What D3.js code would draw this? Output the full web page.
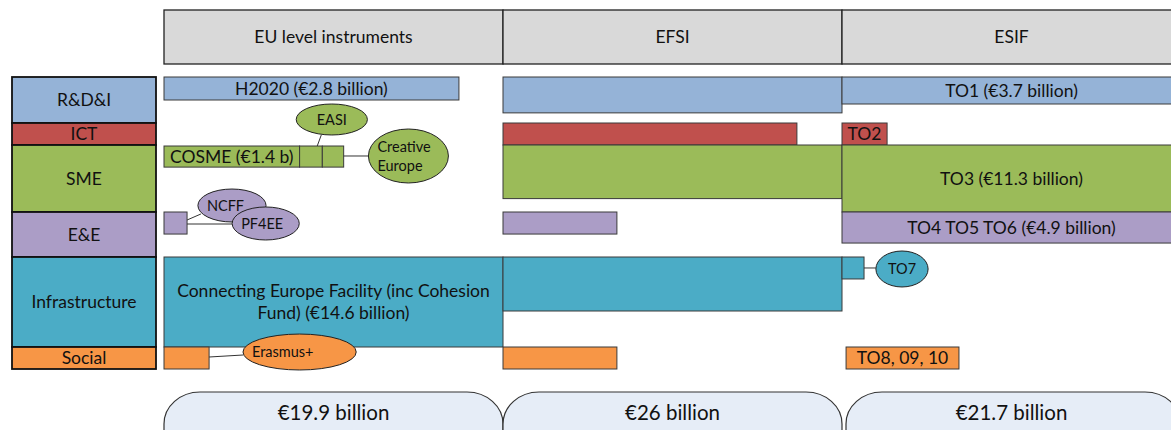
<!DOCTYPE html>
<html>
<head>
<meta charset="utf-8">
<script src="https://cdn.jsdelivr.net/npm/d3@7/dist/d3.min.js"></script>
<style>
  body { margin: 0; background: #fff; }
  text { font-family: Lato, "Noto Sans", sans-serif; fill: #111; }
</style>
</head>
<body>
<svg id="chart" width="1171" height="430"></svg>
<script>
// column headings and the total under each column
var columns = ["EU level instruments", "EFSI", "ESIF"];
var colTotals = ["€19.9 billion", "€26 billion", "€21.7 billion"];

// policy themes, one row each
var themes = ["R&D&I", "ICT", "SME", "E&E", "Infrastructure", "Social"];

// funding blocks: x span in column units (0-3), y span in row units (0-6)
var blocks = [
  {theme: "R&D&I", x: [0, 0.87], y: [0, 0.5], label: "H2020 (€2.8 billion)"},
  {theme: "SME", x: [0, 0.40], y: [2.015, 2.33], label: "COSME (€1.4 b)"},
  {theme: "SME", x: [0.40, 0.467], y: [2.015, 2.33], label: ""},
  {theme: "SME", x: [0.467, 0.53], y: [2.015, 2.33], label: ""},
  {theme: "E&E", x: [0, 0.068], y: [3, 3.49], label: ""},
  {theme: "Infrastructure", x: [0, 1], y: [4, 5], label: "Connecting Europe Facility (inc Cohesion\nFund) (€14.6 billion)"},
  {theme: "Social", x: [0, 0.133], y: [5, 6], label: ""},

  {theme: "R&D&I", x: [1, 2], y: [0, 0.78], label: ""},
  {theme: "ICT", x: [1, 1.867], y: [1, 2], label: ""},
  {theme: "SME", x: [1, 2], y: [2, 2.8], label: ""},
  {theme: "E&E", x: [1, 1.336], y: [3, 3.49], label: ""},
  {theme: "Infrastructure", x: [1, 2], y: [4, 4.6], label: ""},
  {theme: "Social", x: [1, 1.336], y: [5, 6], label: ""},

  {theme: "R&D&I", x: [2, 3], y: [0, 0.587], label: "TO1 (€3.7 billion)"},
  {theme: "ICT", x: [2, 2.133], y: [1, 2], label: "TO2"},
  {theme: "SME", x: [2, 3], y: [2, 3], label: "TO3 (€11.3 billion)"},
  {theme: "E&E", x: [2, 3], y: [3, 3.69], label: "TO4 TO5 TO6 (€4.9 billion)"},
  {theme: "Infrastructure", x: [2, 2.065], y: [4, 4.244], label: ""},
  {theme: "Social", x: [2.012, 2.345], y: [5, 6], label: "TO8, 09, 10"}
];

// smaller instruments shown as bubbles, with the link to their block
var callouts = [
  {theme: "SME", label: "EASI", x: [0.39, 0.60], y: [0.587, 1.545], link: [[0.464, 1.545], [0.452, 2.015]], align: "middle"},
  {theme: "SME", label: "Creative\nEurope", x: [0.603, 0.839], y: [1.273, 2.567], link: [[0.53, 2.164], [0.603, 2.164]], align: "start"},
  {theme: "E&E", label: "NCFF", x: [0.100, 0.301], y: [2.657, 3.222], link: [[0.068, 3.178], [0.109, 3.044]], align: "start"},
  {theme: "E&E", label: "PF4EE", x: [0.201, 0.399], y: [2.925, 3.622], link: [[0.068, 3.267], [0.201, 3.267]], align: "start"},
  {theme: "Social", label: "Erasmus+", x: [0.233, 0.567], y: [4.856, 6.045], link: [[0.133, 5.455], [0.233, 5.364]], align: "start"},
  {theme: "Infrastructure", label: "TO7", x: [2.100, 2.254], y: [3.867, 4.333], link: [[2.065, 4.122], [2.100, 4.122]], align: "middle"}
];

var svg = d3.select("#chart");

var x = d3.scaleLinear().domain([0, 3]).range([164, 1181]);
// rows have different heights
var y = d3.scaleLinear().domain([0, 1, 2, 3, 4, 5, 6]).range([77, 123, 145, 212, 257, 347, 369]);

var color = d3.scaleOrdinal()
  .domain(themes)
  .range(["#95b3d7", "#c0504d", "#9bbb59", "#ab9dc6", "#4bacc6", "#f79646"]);

var fontMain = 17.5;
var stroke = "#3a3a3a";

// column headers
var head = svg.append("g").selectAll("g")
  .data(columns)
  .enter().append("g");
head.append("rect")
  .attr("x", (d, i) => x(i))
  .attr("y", 10)
  .attr("width", x(1) - x(0))
  .attr("height", 54)
  .attr("fill", "#d9d9d9")
  .attr("stroke", "#222")
  .attr("stroke-width", 1.3);
head.append("text")
  .attr("x", (d, i) => x(i + 0.5))
  .attr("y", 37)
  .attr("dy", "0.35em")
  .attr("text-anchor", "middle")
  .style("font-size", fontMain + "px")
  .text(d => d);

// theme labels on the left
var rows = svg.append("g").selectAll("g")
  .data(themes)
  .enter().append("g");
rows.append("rect")
  .attr("x", 12)
  .attr("y", (d, i) => y(i))
  .attr("width", 144)
  .attr("height", (d, i) => y(i + 1) - y(i))
  .attr("fill", d => color(d))
  .attr("stroke", "#111")
  .attr("stroke-width", 1.8);
rows.append("text")
  .attr("x", 84)
  .attr("y", (d, i) => (y(i) + y(i + 1)) / 2)
  .attr("dy", "0.35em")
  .attr("text-anchor", "middle")
  .style("font-size", fontMain + "px")
  .text(d => d);

// funding blocks
var bl = svg.append("g").selectAll("g")
  .data(blocks)
  .enter().append("g");
bl.append("rect")
  .attr("x", d => x(d.x[0]))
  .attr("y", d => y(d.y[0]))
  .attr("width", d => x(d.x[1]) - x(d.x[0]))
  .attr("height", d => y(d.y[1]) - y(d.y[0]))
  .attr("fill", d => color(d.theme))
  .attr("stroke", stroke)
  .attr("stroke-width", 1);
bl.append("text")
  .attr("text-anchor", "middle")
  .style("font-size", fontMain + "px")
  .each(function(d) {
    var lines = d.label.split("\n");
    var cx = (x(d.x[0]) + x(d.x[1])) / 2;
    var cy = (y(d.y[0]) + y(d.y[1])) / 2;
    var lh = 22;
    d3.select(this).selectAll("tspan")
      .data(lines)
      .enter().append("tspan")
      .attr("x", cx)
      .attr("y", (l, i) => cy + (i - (lines.length - 1) / 2) * lh)
      .attr("dy", "0.35em")
      .text(l => l);
  });

// links to the bubbles
svg.append("g").selectAll("line")
  .data(callouts)
  .enter().append("line")
  .attr("x1", d => x(d.link[0][0]))
  .attr("y1", d => y(d.link[0][1]))
  .attr("x2", d => x(d.link[1][0]))
  .attr("y2", d => y(d.link[1][1]))
  .attr("stroke", "#333")
  .attr("stroke-width", 1);

// bubbles
var bub = svg.append("g").selectAll("g")
  .data(callouts)
  .enter().append("g");
bub.append("ellipse")
  .attr("cx", d => (x(d.x[0]) + x(d.x[1])) / 2)
  .attr("cy", d => (y(d.y[0]) + y(d.y[1])) / 2)
  .attr("rx", d => (x(d.x[1]) - x(d.x[0])) / 2)
  .attr("ry", d => (y(d.y[1]) - y(d.y[0])) / 2)
  .attr("fill", d => color(d.theme))
  .attr("stroke", "#222")
  .attr("stroke-width", 1);
bub.append("text")
  .attr("text-anchor", d => d.align)
  .style("font-size", "14.5px")
  .each(function(d) {
    var lines = d.label.split("\n");
    var cx = d.align == "start" ? x(d.x[0]) + 9 : (x(d.x[0]) + x(d.x[1])) / 2;
    var cy = (y(d.y[0]) + y(d.y[1])) / 2;
    d3.select(this).selectAll("tspan")
      .data(lines)
      .enter().append("tspan")
      .attr("x", cx)
      .attr("y", (l, i) => cy + (i - (lines.length - 1) / 2) * 19)
      .attr("dy", "0.35em")
      .text(l => l);
  });

// totals at the bottom
var tot = svg.append("g").selectAll("g")
  .data(colTotals)
  .enter().append("g");
tot.append("rect")
  .attr("x", (d, i) => x(i) + (i == 2 ? 4 : 0))
  .attr("y", 392)
  .attr("width", (d, i) => x(1) - x(0) - (i == 2 ? 4 : 0))
  .attr("height", 70)
  .attr("rx", 36)
  .attr("ry", 32)
  .attr("fill", "#e6edf7")
  .attr("stroke", "#333")
  .attr("stroke-width", 1.2);
tot.append("text")
  .attr("x", (d, i) => x(i + 0.5))
  .attr("y", 413)
  .attr("dy", "0.35em")
  .attr("text-anchor", "middle")
  .style("font-size", "20.5px")
  .text(d => d);
</script>
</body>
</html>
